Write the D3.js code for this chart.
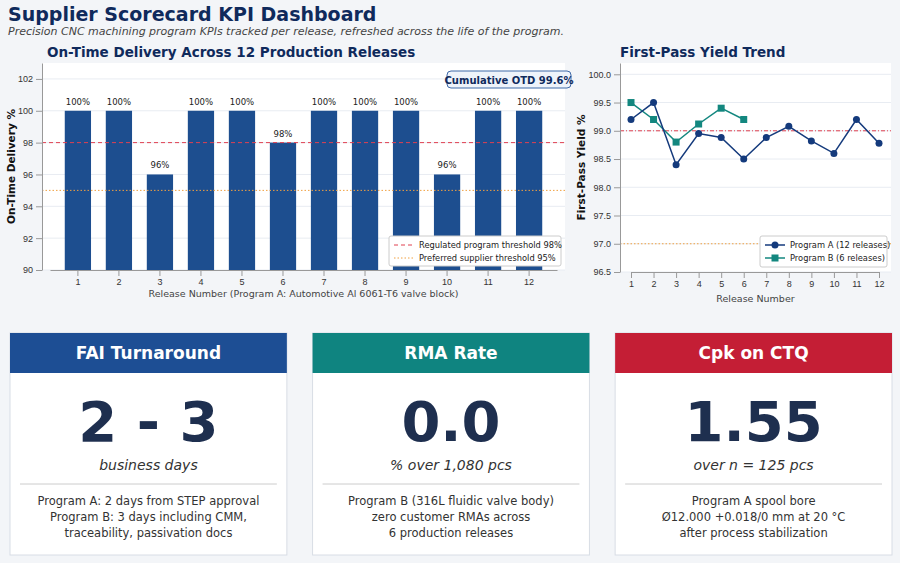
<!DOCTYPE html>
<html><head><meta charset="utf-8">
<script src="https://cdn.jsdelivr.net/npm/d3@7"></script>
<style>body{margin:0;background:#f3f5f8;font-family:"DejaVu Sans",sans-serif}</style>
</head><body>
<script>
const releases = [1,2,3,4,5,6,7,8,9,10,11,12];
const otd = [100,100,96,100,100,98,100,100,100,96,100,100];
const fpyA = [99.2,99.5,98.4,98.95,98.88,98.5,98.88,99.08,98.82,98.6,99.2,98.78];
const fpyB = [99.5,99.2,98.8,99.12,99.4,99.2];
const otdTicks = [90,92,94,96,98,100,102];
const fpyTicks = [96.5,97,97.5,98,98.5,99,99.5,100];
const cards = [
  {title:"FAI Turnaround", color:"#1d4e94", big:"2 - 3", sub:"business days",
   lines:["Program A: 2 days from STEP approval","Program B: 3 days including CMM,","traceability, passivation docs"]},
  {title:"RMA Rate", color:"#0f8480", big:"0.0", sub:"% over 1,080 pcs",
   lines:["Program B (316L fluidic valve body)","zero customer RMAs across","6 production releases"]},
  {title:"Cpk on CTQ", color:"#c41e35", big:"1.55", sub:"over n = 125 pcs",
   lines:["Program A spool bore","Ø12.000 +0.018/0 mm at 20 °C","after process stabilization"]}
];
const navy = "#0f2a5c", bar = "#1d4e8f";

const svg = d3.select("body").append("svg").attr("width",900).attr("height",563);
svg.append("rect").attr("width",900).attr("height",563).attr("fill","#f3f5f8");
svg.append("text").attr("x",8).attr("y",21).attr("font-size",19).attr("font-weight","bold").attr("fill",navy).text("Supplier Scorecard KPI Dashboard");
svg.append("text").attr("x",8).attr("y",35).attr("font-size",11).attr("font-style","italic").attr("fill","#444").text("Precision CNC machining program KPIs tracked per release, refreshed across the life of the program.");

// ---- OTD bar chart
const L = {l:42,r:565,t:63,b:270};
svg.append("rect").attr("x",L.l).attr("y",L.t).attr("width",L.r-L.l).attr("height",L.b-L.t).attr("fill","#fff");
svg.append("text").attr("x",47).attr("y",57).attr("font-size",13.5).attr("font-weight","bold").attr("fill",navy).text("On-Time Delivery Across 12 Production Releases");
const x = d3.scaleBand().domain(releases).range([L.l+8,L.r-8]).padding(0.36);
const y = d3.scaleLinear().domain([90,103]).range([L.b,L.t]);
const g1 = svg.append("g");
g1.selectAll("line.grid").data(otdTicks).join("line").attr("x1",L.l).attr("x2",L.r).attr("y1",d=>y(d)).attr("y2",d=>y(d)).attr("stroke","#e8ecf2");
g1.selectAll("rect.bar").data(otd).join("rect").attr("x",(d,i)=>x(releases[i])).attr("width",x.bandwidth())
  .attr("y",d=>y(d)).attr("height",d=>L.b-y(d)).attr("fill",bar);
g1.selectAll("text.lab").data(otd).join("text").attr("x",(d,i)=>x(releases[i])+x.bandwidth()/2).attr("y",d=>y(d)-6)
  .attr("text-anchor","middle").attr("font-size",8.5).attr("fill","#222").text(d=>d+"%");
g1.append("line").attr("x1",L.l).attr("x2",L.r).attr("y1",y(98)).attr("y2",y(98)).attr("stroke","#e04050").attr("stroke-dasharray","4,3");
g1.append("line").attr("x1",L.l).attr("x2",L.r).attr("y1",y(95)).attr("y2",y(95)).attr("stroke","#f0a040").attr("stroke-dasharray","1.5,2");
const ax1 = svg.append("g").attr("transform",`translate(0,${L.b})`).call(d3.axisBottom(x).tickSizeOuter(0));
const ay1 = svg.append("g").attr("transform",`translate(${L.l},0)`).call(d3.axisLeft(y).tickValues(otdTicks).tickSizeOuter(0));
[ax1,ay1].forEach(a=>{a.selectAll("text").attr("font-size",9).attr("fill","#333");a.selectAll("line,path").attr("stroke","#999");});
svg.append("text").attr("x",(L.l+L.r)/2).attr("y",297).attr("text-anchor","middle").attr("font-size",9.5).attr("fill","#444").text("Release Number  (Program A: Automotive Al 6061-T6 valve block)");
svg.append("text").attr("transform",`translate(15,${(L.t+L.b)/2}) rotate(-90)`).attr("text-anchor","middle").attr("font-size",10.5).attr("font-weight","bold").attr("fill","#111").text("On-Time Delivery %");
svg.append("rect").attr("x",447).attr("y",71).attr("width",124).attr("height",17).attr("rx",4).attr("fill","#eef3fa").attr("stroke","#3f6aa8");
svg.append("text").attr("x",509).attr("y",83.5).attr("text-anchor","middle").attr("font-size",10).attr("font-weight","bold").attr("fill",navy).text("Cumulative OTD 99.6%");
const lg1 = svg.append("g").attr("transform","translate(389,236)");
lg1.append("rect").attr("width",172).attr("height",30).attr("fill","#fff").attr("stroke","#ccc").attr("rx",2);
lg1.append("line").attr("x1",5).attr("x2",25).attr("y1",9).attr("y2",9).attr("stroke","#e04050").attr("stroke-dasharray","4,3");
lg1.append("line").attr("x1",5).attr("x2",25).attr("y1",22).attr("y2",22).attr("stroke","#f0a040").attr("stroke-dasharray","1.5,2");
lg1.append("text").attr("x",30).attr("y",12).attr("font-size",8.3).attr("fill","#222").text("Regulated program threshold  98%");
lg1.append("text").attr("x",30).attr("y",25).attr("font-size",8.3).attr("fill","#222").text("Preferred supplier threshold  95%");

// ---- FPY line chart
const R = {l:620,r:891,t:63,b:272};
svg.append("rect").attr("x",R.l).attr("y",R.t).attr("width",R.r-R.l).attr("height",R.b-R.t).attr("fill","#fff");
svg.append("text").attr("x",620).attr("y",57).attr("font-size",13.5).attr("font-weight","bold").attr("fill",navy).text("First-Pass Yield Trend");
const x2 = d3.scalePoint().domain(releases).range([R.l+11,R.r-12]);
const y2 = d3.scaleLinear().domain([96.5,100.2]).range([R.b,R.t]);
const g2 = svg.append("g");
g2.selectAll("line.grid").data(fpyTicks).join("line").attr("x1",R.l).attr("x2",R.r).attr("y1",d=>y2(d)).attr("y2",d=>y2(d)).attr("stroke","#e8ecf2");
g2.append("line").attr("x1",R.l).attr("x2",R.r).attr("y1",y2(99)).attr("y2",y2(99)).attr("stroke","#e04050").attr("stroke-dasharray","4,2,1,2");
g2.append("line").attr("x1",R.l).attr("x2",R.r).attr("y1",y2(97)).attr("y2",y2(97)).attr("stroke","#f0a040").attr("stroke-dasharray","1.5,2");
const line = d3.line().x((d,i)=>x2(releases[i])).y(d=>y2(d));
g2.append("path").attr("d",line(fpyB)).attr("fill","none").attr("stroke","#13877f").attr("stroke-width",1.5);
g2.selectAll("rect.pb").data(fpyB).join("rect").attr("x",(d,i)=>x2(releases[i])-3.5).attr("y",d=>y2(d)-3.5).attr("width",7).attr("height",7).attr("fill","#13877f");
g2.append("path").attr("d",line(fpyA)).attr("fill","none").attr("stroke","#143a7c").attr("stroke-width",1.5);
g2.selectAll("circle.pa").data(fpyA).join("circle").attr("cx",(d,i)=>x2(releases[i])).attr("cy",d=>y2(d)).attr("r",3.5).attr("fill","#143a7c");
const ax2 = svg.append("g").attr("transform",`translate(0,${R.b})`).call(d3.axisBottom(x2).tickSizeOuter(0));
const ay2 = svg.append("g").attr("transform",`translate(${R.l},0)`).call(d3.axisLeft(y2).tickValues(fpyTicks).tickFormat(d3.format(".1f")).tickSizeOuter(0));
[ax2,ay2].forEach(a=>{a.selectAll("text").attr("font-size",9).attr("fill","#333");a.selectAll("line,path").attr("stroke","#999");});
svg.append("text").attr("x",(R.l+R.r)/2).attr("y",302).attr("text-anchor","middle").attr("font-size",9.5).attr("fill","#444").text("Release Number");
svg.append("text").attr("transform",`translate(585,${(R.t+R.b)/2}) rotate(-90)`).attr("text-anchor","middle").attr("font-size",10.5).attr("font-weight","bold").attr("fill","#111").text("First-Pass Yield %");
const lg2 = svg.append("g").attr("transform","translate(760,236)");
lg2.append("rect").attr("width",127).attr("height",31).attr("fill","#fff").attr("stroke","#ccc").attr("rx",2);
lg2.append("line").attr("x1",5).attr("x2",25).attr("y1",9).attr("y2",9).attr("stroke","#143a7c").attr("stroke-width",1.5);
lg2.append("circle").attr("cx",15).attr("cy",9).attr("r",3.5).attr("fill","#143a7c");
lg2.append("line").attr("x1",5).attr("x2",25).attr("y1",22).attr("y2",22).attr("stroke","#13877f").attr("stroke-width",1.5);
lg2.append("rect").attr("x",11.5).attr("y",18.5).attr("width",7).attr("height",7).attr("fill","#13877f");
lg2.append("text").attr("x",30).attr("y",12).attr("font-size",8.3).attr("fill","#222").text("Program A  (12 releases)");
lg2.append("text").attr("x",30).attr("y",25).attr("font-size",8.3).attr("fill","#222").text("Program B  (6 releases)");

// ---- KPI cards
const cx = d3.scaleBand().domain(cards.map(c=>c.title)).range([10,892]).paddingInner(0.085);
const cg = svg.selectAll("g.card").data(cards).join("g").attr("transform",d=>`translate(${cx(d.title)},333)`);
const w = cx.bandwidth();
cg.append("rect").attr("width",w).attr("height",222).attr("fill","#fff").attr("stroke","#d8dde5");
cg.append("rect").attr("width",w).attr("height",40).attr("fill",d=>d.color);
cg.append("text").attr("x",w/2).attr("y",26).attr("text-anchor","middle").attr("font-size",17).attr("font-weight","bold").attr("fill","#fff").text(d=>d.title);
cg.append("text").attr("x",w/2).attr("y",108).attr("text-anchor","middle").attr("font-size",56).attr("font-weight","bold").attr("fill","#1e2f4f").text(d=>d.big);
cg.append("text").attr("x",w/2).attr("y",137).attr("text-anchor","middle").attr("font-size",14).attr("font-style","italic").attr("fill","#333").text(d=>d.sub);
cg.append("line").attr("x1",10).attr("x2",w-10).attr("y1",151).attr("y2",151).attr("stroke","#ccc");
cg.each(function(d){
  d3.select(this).selectAll("text.ln").data(d.lines).join("text").attr("x",w/2).attr("y",(t,i)=>172+i*16)
    .attr("text-anchor","middle").attr("font-size",11.5).attr("fill","#333").text(t=>t);
});
</script>
</body></html>
